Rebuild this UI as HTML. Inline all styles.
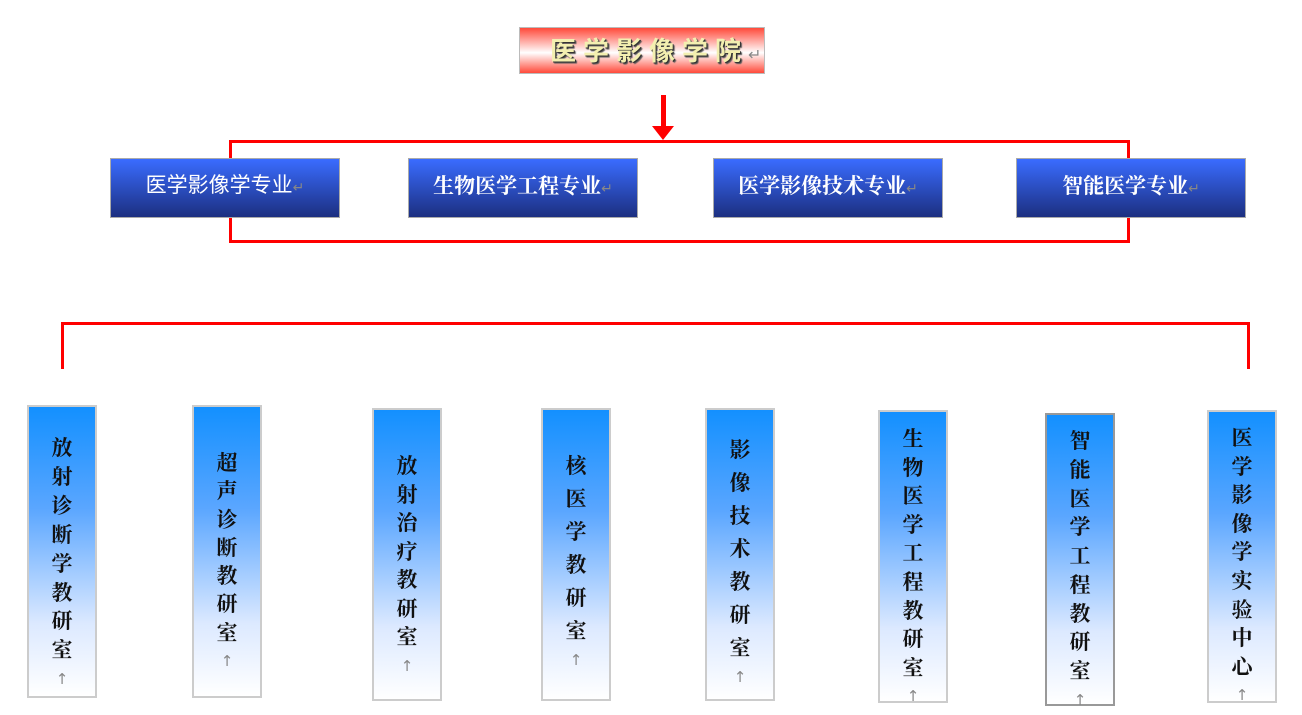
<!DOCTYPE html>
<html><head><meta charset="utf-8"><style>
body{margin:0;width:1302px;height:713px;background:#fff;position:relative;overflow:hidden;font-family:"Liberation Serif","Noto Serif CJK SC",serif}
.a{position:absolute}
.ln{position:absolute;background:#f00}
.top{left:519px;top:27px;width:246px;height:47px;border:1px solid #bbb;background:linear-gradient(#ff4a3a,#fff 55%,#ff4a3a);font-size:26px;letter-spacing:7px;color:#f3efb0;text-shadow:1px 1px 0 #333,2px 2px 1px #555;line-height:47px;font-weight:bold;font-family:"Liberation Sans","Noto Sans CJK SC",sans-serif;box-sizing:border-box;padding-left:30px;white-space:nowrap}
.mj{height:58px;width:228px;border:1px solid #aaa;background:linear-gradient(#3a6cff,#1c2f80);color:#fff;font-size:21px;line-height:54px;text-align:center;font-weight:bold;white-space:nowrap}
.mk{color:#888;font-weight:normal;font-size:14px}
.v{width:70px;border:2px solid #ccc;background:linear-gradient(#1390ff,#5aa6ff 35%,#dce9ff 75%,#fff);box-sizing:border-box}
.t{position:absolute;width:70px;text-align:center;font-size:21px;font-weight:bold;color:#111}
.t span{display:block}
.t .r{color:#888;font-weight:normal;font-size:15px;font-family:"DejaVu Sans",sans-serif}
</style></head><body>
<div class="a top">医学影像学院<span style="color:#888;text-shadow:none;font-size:16px;letter-spacing:0;font-weight:normal">↵</span></div>
<div class="ln" style="left:661px;top:95px;width:5px;height:33px"></div>
<div class="a" style="left:652px;top:126px;width:0;height:0;border-left:11px solid transparent;border-right:11px solid transparent;border-top:14px solid #f00"></div>
<div class="ln" style="left:229px;top:140px;width:901px;height:3px"></div>
<div class="ln" style="left:229px;top:240px;width:901px;height:3px"></div>
<div class="ln" style="left:229px;top:140px;width:3px;height:103px"></div>
<div class="ln" style="left:1127px;top:140px;width:3px;height:103px"></div>
<div class="a mj" style="left:110px;top:158px;font-weight:normal;font-family:'Liberation Sans','Noto Sans CJK SC',sans-serif">医学影像学专业<span class="mk">↵</span></div>
<div class="a mj" style="left:408px;top:158px">生物医学工程专业<span class="mk">↵</span></div>
<div class="a mj" style="left:713px;top:158px">医学影像技术专业<span class="mk">↵</span></div>
<div class="a mj" style="left:1016px;top:158px">智能医学专业<span class="mk">↵</span></div>
<div class="ln" style="left:61px;top:322px;width:1189px;height:3px"></div>
<div class="ln" style="left:61px;top:322px;width:3px;height:47px"></div>
<div class="ln" style="left:1247px;top:322px;width:3px;height:47px"></div>

<div class="a v" style="left:27px;top:405px;height:293px"></div>
<div class="t" style="left:27px;top:434px;line-height:28.9px"><span>放</span><span>射</span><span>诊</span><span>断</span><span>学</span><span>教</span><span>研</span><span>室</span><span class="r">↑</span></div>
<div class="a v" style="left:192px;top:405px;height:293px"></div>
<div class="t" style="left:192px;top:449px;line-height:28.3px"><span>超</span><span>声</span><span>诊</span><span>断</span><span>教</span><span>研</span><span>室</span><span class="r">↑</span></div>
<div class="a v" style="left:372px;top:408px;height:293px"></div>
<div class="t" style="left:372px;top:452px;line-height:28.5px"><span>放</span><span>射</span><span>治</span><span>疗</span><span>教</span><span>研</span><span>室</span><span class="r">↑</span></div>
<div class="a v" style="left:541px;top:408px;height:293px"></div>
<div class="t" style="left:541px;top:450px;line-height:33px"><span>核</span><span>医</span><span>学</span><span>教</span><span>研</span><span>室</span><span class="r" style="line-height:24px">↑</span></div>
<div class="a v" style="left:705px;top:408px;height:293px"></div>
<div class="t" style="left:705px;top:434px;line-height:33px"><span>影</span><span>像</span><span>技</span><span>术</span><span>教</span><span>研</span><span>室</span><span class="r" style="line-height:24px">↑</span></div>
<div class="a v" style="left:878px;top:410px;height:293px"></div>
<div class="t" style="left:878px;top:425px;line-height:28.6px"><span>生</span><span>物</span><span>医</span><span>学</span><span>工</span><span>程</span><span>教</span><span>研</span><span>室</span><span class="r">↑</span></div>
<div class="a v" style="left:1045px;top:413px;height:293px;border-color:#999"></div>
<div class="t" style="left:1045px;top:427px;line-height:28.75px"><span>智</span><span>能</span><span>医</span><span>学</span><span>工</span><span>程</span><span>教</span><span>研</span><span>室</span><span class="r">↑</span></div>
<div class="a v" style="left:1207px;top:410px;height:293px"></div>
<div class="t" style="left:1207px;top:424px;line-height:28.6px"><span>医</span><span>学</span><span>影</span><span>像</span><span>学</span><span>实</span><span>验</span><span>中</span><span>心</span><span class="r">↑</span></div>
</body></html>
